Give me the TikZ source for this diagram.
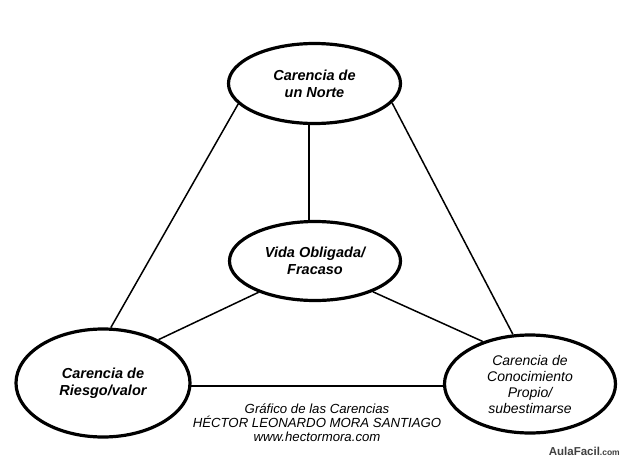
\documentclass[tikz,border=0pt]{standalone}
\usepackage{fontspec}
\setmainfont{Liberation Sans}
\usetikzlibrary{shapes.geometric}
\begin{document}
\begin{tikzpicture}[x=1pt,y=-1pt,
  circ/.style={ellipse, draw=black, line width=3.2pt, fill=white, inner sep=0pt,
    font=\bfseries\itshape\fontsize{14.5}{17}\selectfont, align=center},
  conn/.style={draw=black, line width=1.5pt}]
\useasboundingbox (0,0) rectangle (624,458);
\node[circ, minimum width=172, minimum height=80] (top) at (314.5,83.5) {Carencia de\\un Norte};
\node[circ, minimum width=171, minimum height=79] (mid) at (315,261) {Vida Obligada/\\Fracaso};
\node[circ, minimum width=174, minimum height=108] (left) at (103,383) {Carencia de\\Riesgo/valor};
\node[circ, minimum width=171, minimum height=98, font=\itshape\fontsize{14}{16}\selectfont] (right) at (530,384) {Carencia de\\Conocimiento\\Propio/\\subestimarse};
\path[conn] (mid.98 |- top.-98) -- (mid.98);
\path[conn] (top.-165) -- (left.82);
\path[conn] (top.-14.5) -- (right.109);
\path[conn] (mid.-151.6) -- (left.38);
\path[conn] (mid.-28) -- (right.138);
\path[conn] (left.-2) -- (right.west |- left.-2);
\node[font=\itshape\fontsize{13.2}{14}\selectfont, align=center, inner sep=0pt] (cap) at (317,423) {Gráfico de las Carencias\\HÉCTOR LEONARDO MORA SANTIAGO\\www.hectormora.com};
\node[font=\bfseries\fontsize{11.5}{13}\selectfont, text=black!75, inner sep=0pt, anchor=east] (logo) at (620,451) {AulaFacil{\fontsize{8.5}{10}\selectfont.com}};
\end{tikzpicture}
\end{document}
